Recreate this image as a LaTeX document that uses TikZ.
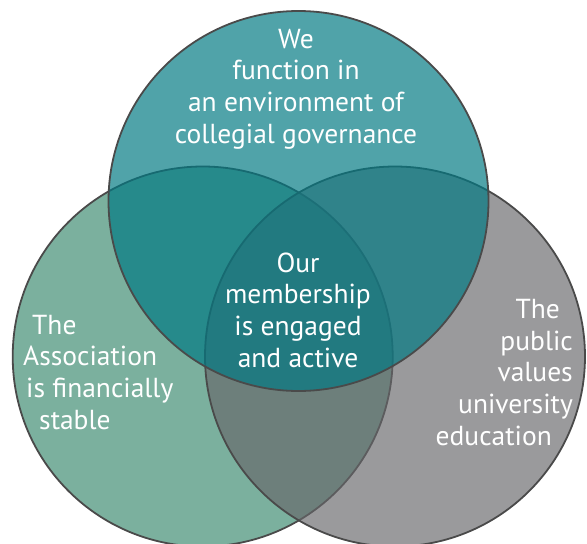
\documentclass[tikz,border=0pt]{standalone}
\usepackage{fontspec}
\setmainfont{PT Sans}
\definecolor{financegreen}{RGB}{123,176,158}
\definecolor{publicgray}{RGB}{102,102,105}
\definecolor{governteal}{RGB}{0,121,131}
\definecolor{ringline}{RGB}{74,74,74}
\begin{document}
\begin{tikzpicture}[x=1pt,y=-1pt,
  venn/.style={circle, draw=ringline, line width=1.8pt, minimum size=380pt, inner sep=0pt},
  blurb/.style={text=white, inner sep=0pt, font=\fontsize{27.5}{31.6}\selectfont}]
\useasboundingbox (0,0) rectangle (587,544);
\fill[white] (0,0) rectangle (587,544);
% the three circles, lower ones first
\node[venn, fill=financegreen] (finance) at (202.7,356.5) {};
\node[venn, fill=publicgray, fill opacity=0.66] (public) at (395,356.5) {};
\node[venn, fill=governteal, fill opacity=0.685] (govern) at (298.5,201) {};
% texts (each anchored on the baseline of its last line)
\node[blurb, align=center, anchor=base] (govtext) at (296,143)
  {We\\function in\\an environment of\\collegial governance};
\node[blurb, align=center, anchor=base] (coretext) at (298,367)
  {Our\\membership\\is engaged\\and active};
\node[blurb, align=left, anchor=base west] (fintext) at (23,429)
  {\hspace*{9pt}The\\Association\\\hspace*{3pt}is financially\\\hspace*{16pt}stable};
\node[blurb, align=right, anchor=base east] (pubtext) at (573,445)
  {The\hspace*{13pt}\\public\hspace*{2pt}\\values\\university\hspace*{9pt}\\education\hspace*{21pt}};
\end{tikzpicture}
\end{document}
